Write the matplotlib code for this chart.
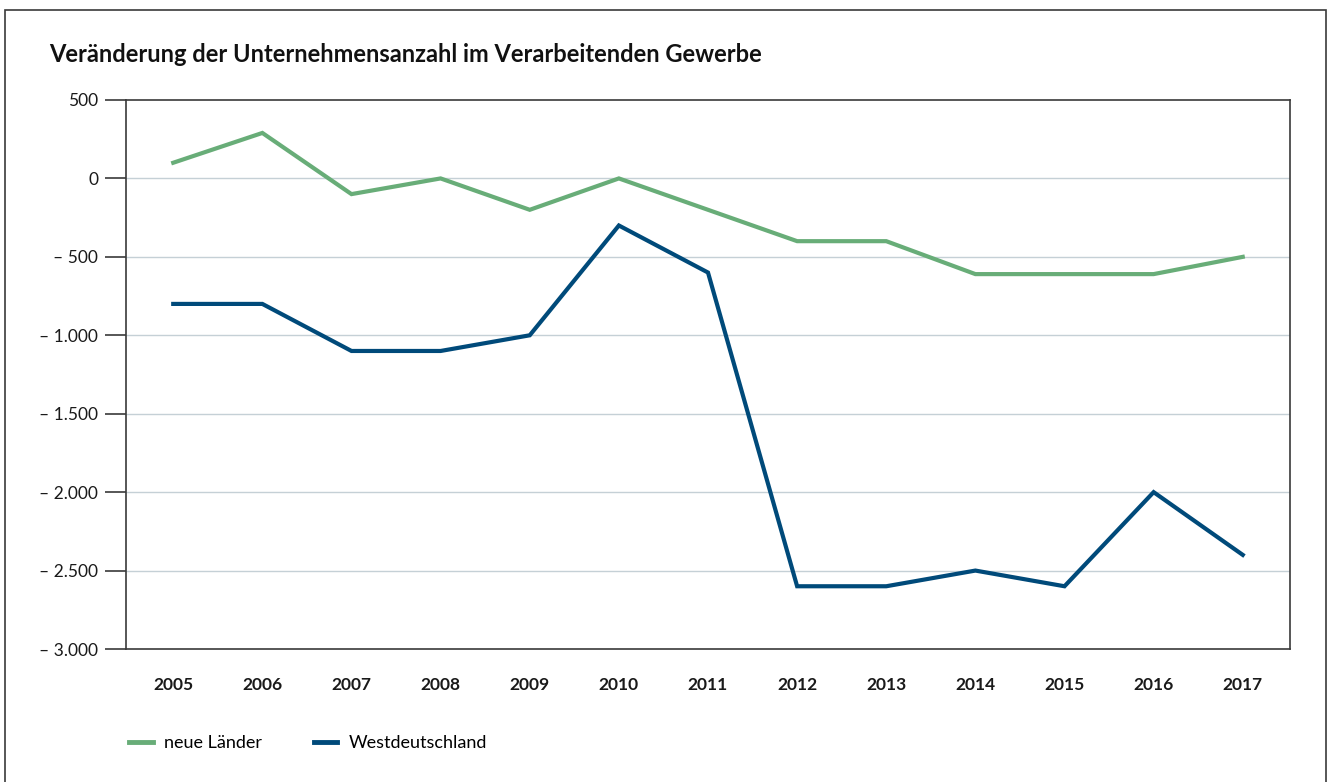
import matplotlib
matplotlib.use("Agg")
import matplotlib.pyplot as plt
from matplotlib.patches import Rectangle
from matplotlib.lines import Line2D

years = ["2005", "2006", "2007", "2008", "2009", "2010", "2011",
         "2012", "2013", "2014", "2015", "2016", "2017"]
neue_laender = [100, 290, -100, 0, -200, 0, -200, -400, -400, -610, -610, -610, -500]
westdeutschland = [-800, -800, -1100, -1100, -1000, -300, -600, -2600, -2600, -2500, -2600, -2000, -2400]
y_ticks = [500, 0, -500, -1000, -1500, -2000, -2500, -3000]
y_labels = ["500", "0", "– 500", "– 1.000", "– 1.500", "– 2.000", "– 2.500", "– 3.000"]

GREEN = "#68ad78"
NAVY = "#004a7a"
FRAME = "#3a3a3a"
GRID = "#c5d0d6"

plt.rcParams["font.family"] = ["Lato", "DejaVu Sans"]

W, H = 1333, 782
fig = plt.figure(figsize=(W / 100, H / 100), dpi=100)

# outer frame around the whole graphic
fig.patches.append(Rectangle((5 / W, -0.05), 1321 / W, 1.05 - 10 / H,
                             transform=fig.transFigure, fill=False,
                             edgecolor=FRAME, linewidth=1.2))

ax = fig.add_axes([126 / W, 1 - 649 / H, (1290 - 126) / W, (649 - 100) / H])

x = list(range(len(years)))
ax.plot(x, neue_laender, color=GREEN, linewidth=3.0, solid_joinstyle="miter", zorder=3)
ax.plot(x, westdeutschland, color=NAVY, linewidth=3.0, solid_joinstyle="miter", zorder=3)

ax.set_xlim(-0.53, len(years) - 1 + 0.53)
ax.set_ylim(-3000, 500)
ax.set_yticks(y_ticks)
ax.set_yticklabels(y_labels, fontsize=12.5, color="#1a1a1a")
ax.set_xticks(x)
ax.set_xticklabels(years, fontsize=12.5, fontweight="bold", color="#1a1a1a")

ax.tick_params(axis="y", length=15, width=1.2, color=FRAME, pad=5)
ax.tick_params(axis="x", length=0, pad=20)

for yv in y_ticks[1:-1]:
    ax.axhline(yv, color=GRID, linewidth=1.0, zorder=1)

for s in ax.spines.values():
    s.set_color(FRAME)
    s.set_linewidth(1.2)

fig.text(49 / W, 1 - 55 / H, "Veränderung der Unternehmensanzahl im Verarbeitenden Gewerbe",
         fontsize=17, fontweight="bold", color="#111111", va="center", ha="left")

handles = [Line2D([], [], color=GREEN, linewidth=3.5),
           Line2D([], [], color=NAVY, linewidth=3.5)]
fig.legend(handles, ["neue Länder", "Westdeutschland"], loc="center left",
           bbox_to_anchor=(113 / W, 1 - 743 / H), ncol=2, frameon=False,
           fontsize=13, handlelength=1.3, handletextpad=0.6, columnspacing=2.9)

fig.savefig("out.png", dpi=100, facecolor="white")
